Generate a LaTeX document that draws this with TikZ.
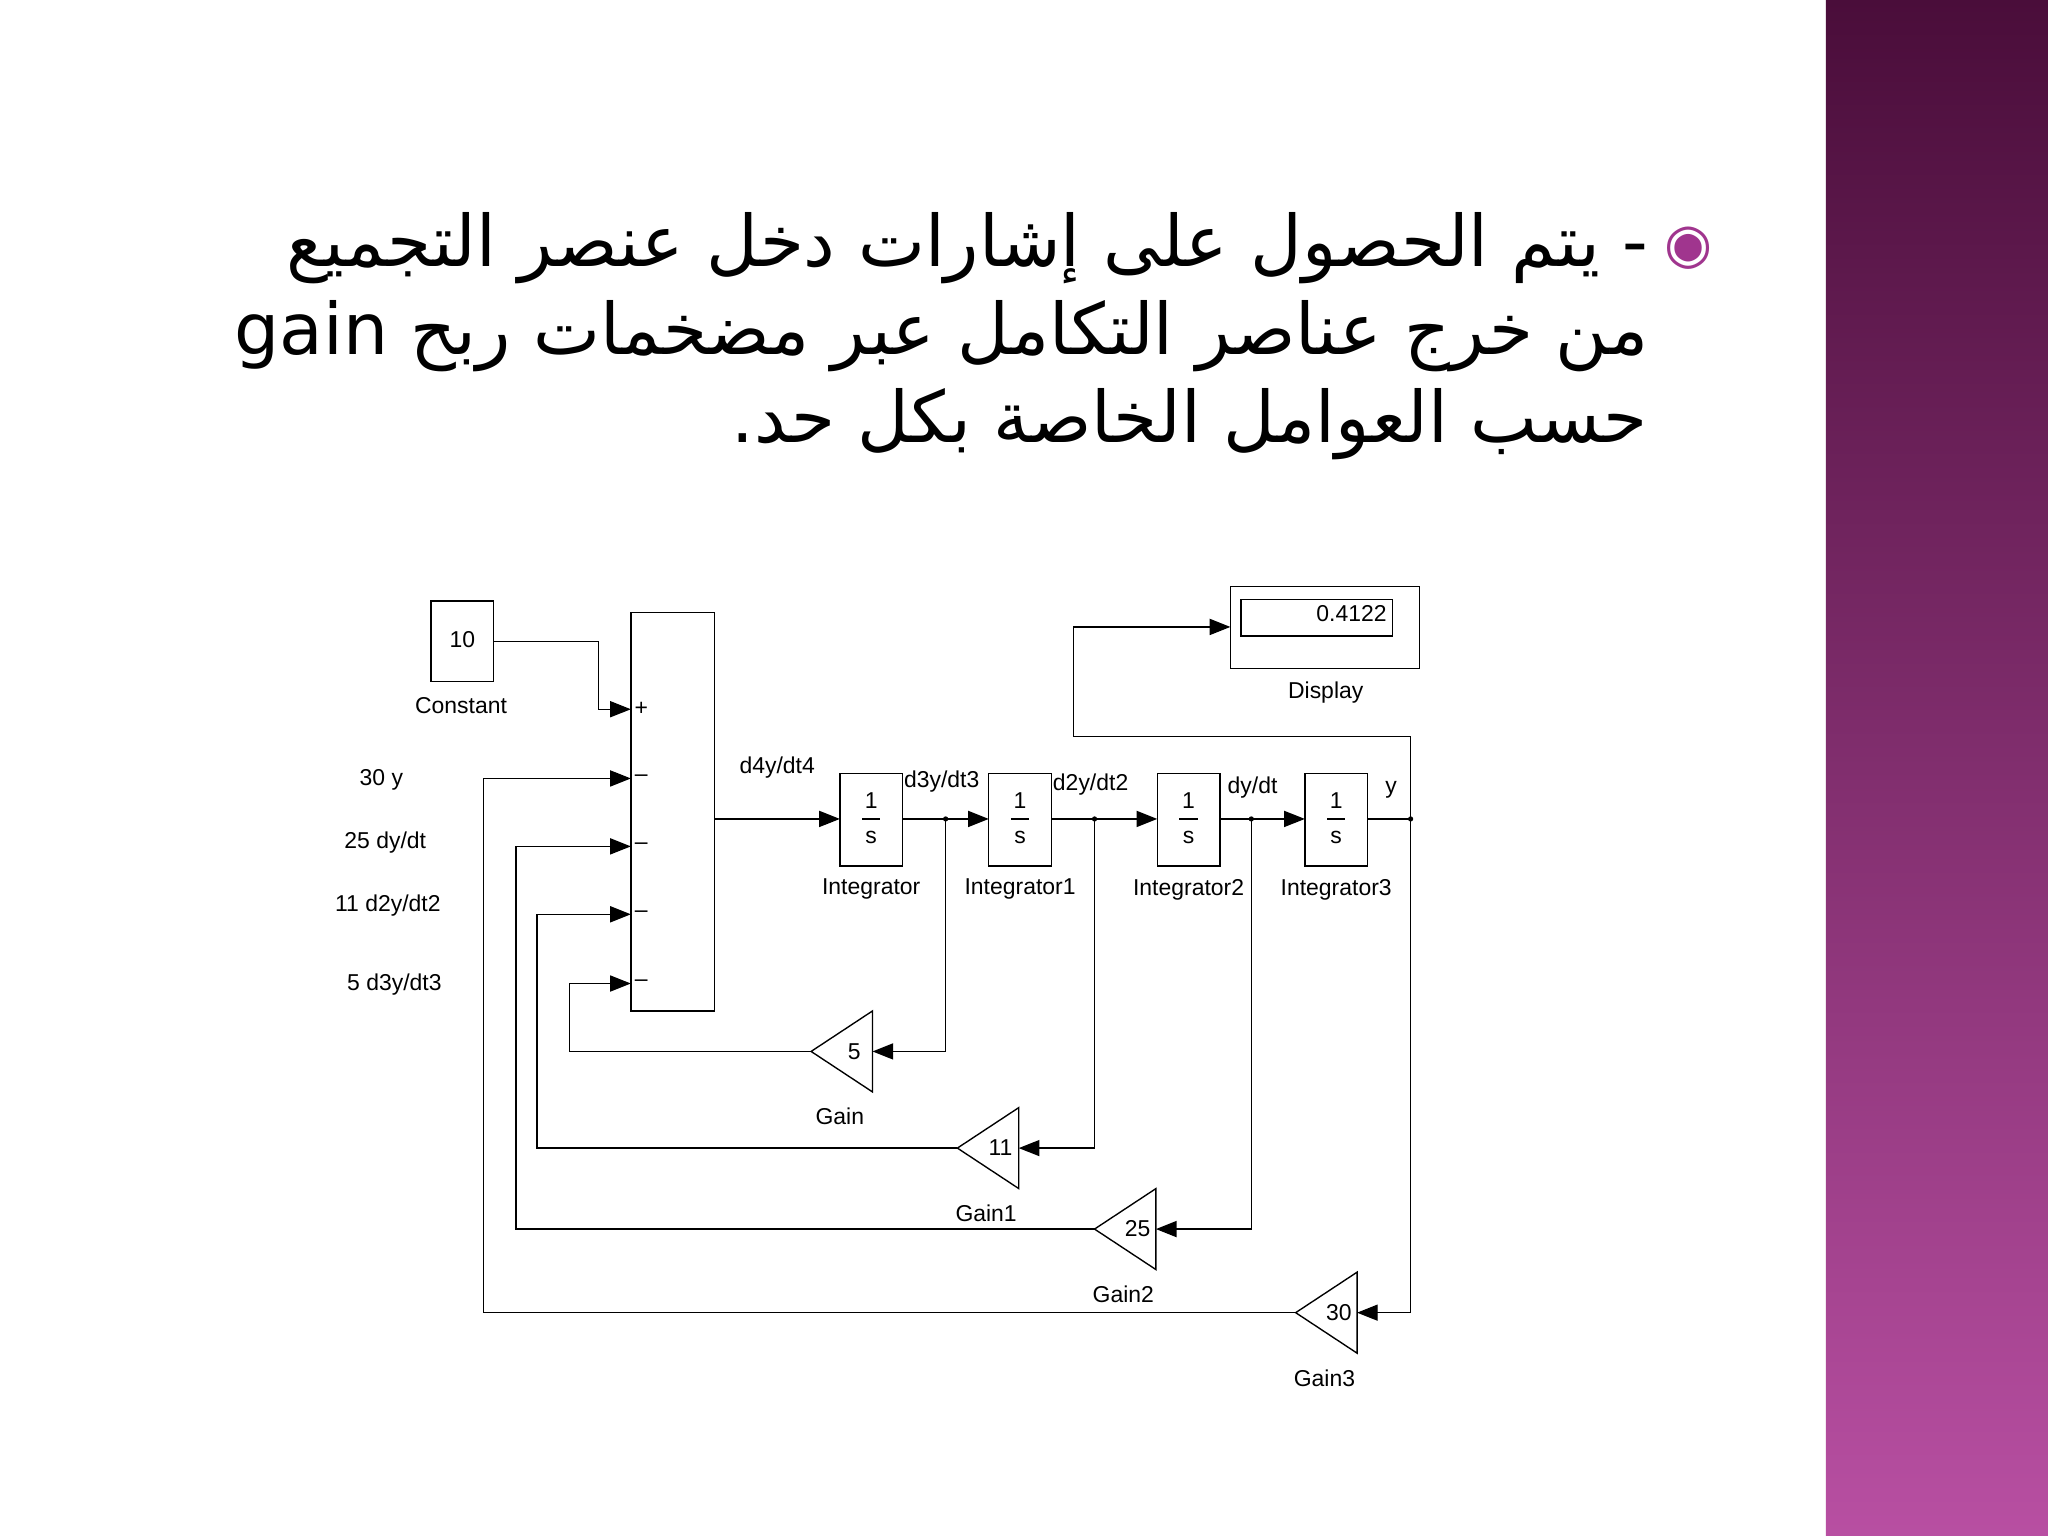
\documentclass[tikz,border=0pt]{standalone}
\usepackage{fontspec}
\setmainfont{Liberation Sans}
\newfontfamily\arabicfont[Script=Arabic]{DejaVu Sans}
\newfontfamily\dejavu{DejaVu Sans}
\TeXXeTstate=1
\usetikzlibrary{arrows.meta}
\definecolor{bartop}{HTML}{4A0D3A}
\definecolor{barbot}{HTML}{B84FA2}
\definecolor{bul}{HTML}{A0358E}
\begin{document}
\begin{tikzpicture}[x=0.02cm,y=-0.02cm,
  blk/.style={draw,line width=0.6pt,inner sep=0,anchor=north west},
  lbl/.style={font=\fontsize{10}{12}\selectfont,inner sep=0},
  ar/.style={line width=0.6pt,-{Triangle[length=9pt,width=7pt]}},
  ln/.style={line width=0.6pt},
  ar3/.style={font=\arabicfont\fontsize{31}{36}\selectfont,anchor=east,inner sep=0}]
\useasboundingbox (0,0) rectangle (1568,1176);
\fill[white] (0,0) rectangle (1568,1176);
\shade[top color=bartop,bottom color=barbot] (1398,0) rectangle (1568,1176);
% text
\node[text=bul,font=\dejavu\fontsize{24}{24}\selectfont] (bul) at (1293,190) {◉};
\node[ar3] (l1) at (1262,190) {\beginR - يتم الحصول على إشارات دخل عنصر التجميع\endR};
\node[ar3] (l2) at (1262,257) {\beginR من خرج عناصر التكامل عبر مضخمات ربح \beginL gain\endL\endR};
\node[ar3] (l3) at (1262,325) {\beginR حسب العوامل الخاصة بكل حد.\endR};
% constant
\draw[ln] (330,460) rectangle (378,522);
\node[lbl] (c10) at (354,490) {10};
\node[lbl] (cl) at (353,540) {Constant};
% sum
\draw[ln] (483,469) rectangle (547,774);
\coordinate (s1) at (483,543); \coordinate (s2) at (483,596);
\coordinate (s3) at (483,648); \coordinate (s4) at (483,700); \coordinate (s5) at (483,753);
\node[lbl] at (491,543) {+};
\foreach \yy in {596,648,700,753} \node[lbl] at (491,\yy) {--};
\draw[ar] (378,491) -| (458,543) -- (s1);
\node[lbl] at (292,597) {30 y};
\node[lbl] at (295,645) {25 dy/dt};
\node[lbl] at (297,693) {11 d2y/dt2};
\node[lbl] at (302,754) {5 d3y/dt3};
% integrators
\foreach \x/\n/\nm in {643/i0/Integrator,757/i1/Integrator1,886/i2/Integrator2,999/i3/Integrator3}{
  \draw[ln] (\x,592) rectangle ++(48,71);
  \node[lbl] at (\x+24,613) {1};
  \draw[line width=0.5pt] (\x+17,627) -- ++(14,0);
  \node[lbl] at (\x+24,641) {s};
  \node[lbl] at (\x+24,681) {\nm};
}
\draw[ar] (547,627) -- (643,627);
\node[lbl] at (595,588) {d4y/dt4};
\draw[ar] (691,627) -- (757,627);
\draw[ar] (805,627) -- (886,627);
\draw[ar] (934,627) -- (999,627);
\draw[ln] (1047,627) -- (1080,627);
\node[lbl] at (721,598) {d3y/dt3};
\node[lbl] at (835,601) {d2y/dt2};
\node[lbl] at (959,603) {dy/dt};
\node[lbl] at (1065,605) {y};
\foreach \x in {724,838,958,1080} \fill (\x,627) circle (2);
% display
\draw[ln] (942,449) rectangle (1087,512);
\draw[ln] (950,459) rectangle (1066,487);
\node[lbl,anchor=east] at (1062,470) {0.4122};
\node[lbl] at (1015,530) {Display};
\draw[ar] (1080,627) -- (1080,564) -- (822,564) -- (822,480) -- (942,480);
% gains
\foreach \t/\y/\v/\nm/\bx/\ox/\sy in {621/805/5/Gain/724/436/753,733/879/11/Gain1/838/411/700,838/941/25/Gain2/958/395/648,992/1005/30/Gain3/1080/370/596}{
  \draw[ln] (\t,\y) -- (\t+47,\y-31) -- (\t+47,\y+31) -- cycle;
  \node[lbl] at (\t+33,\y) {\v};
  \node[lbl] at (\t+22,\y+50) {\nm};
  \draw[ar] (\bx,627) -- (\bx,\y) -- (\t+47,\y);
  \draw[ar] (\t,\y) -- (\ox,\y) -- (\ox,\sy) -- (483,\sy);
}
\end{tikzpicture}
\end{document}
